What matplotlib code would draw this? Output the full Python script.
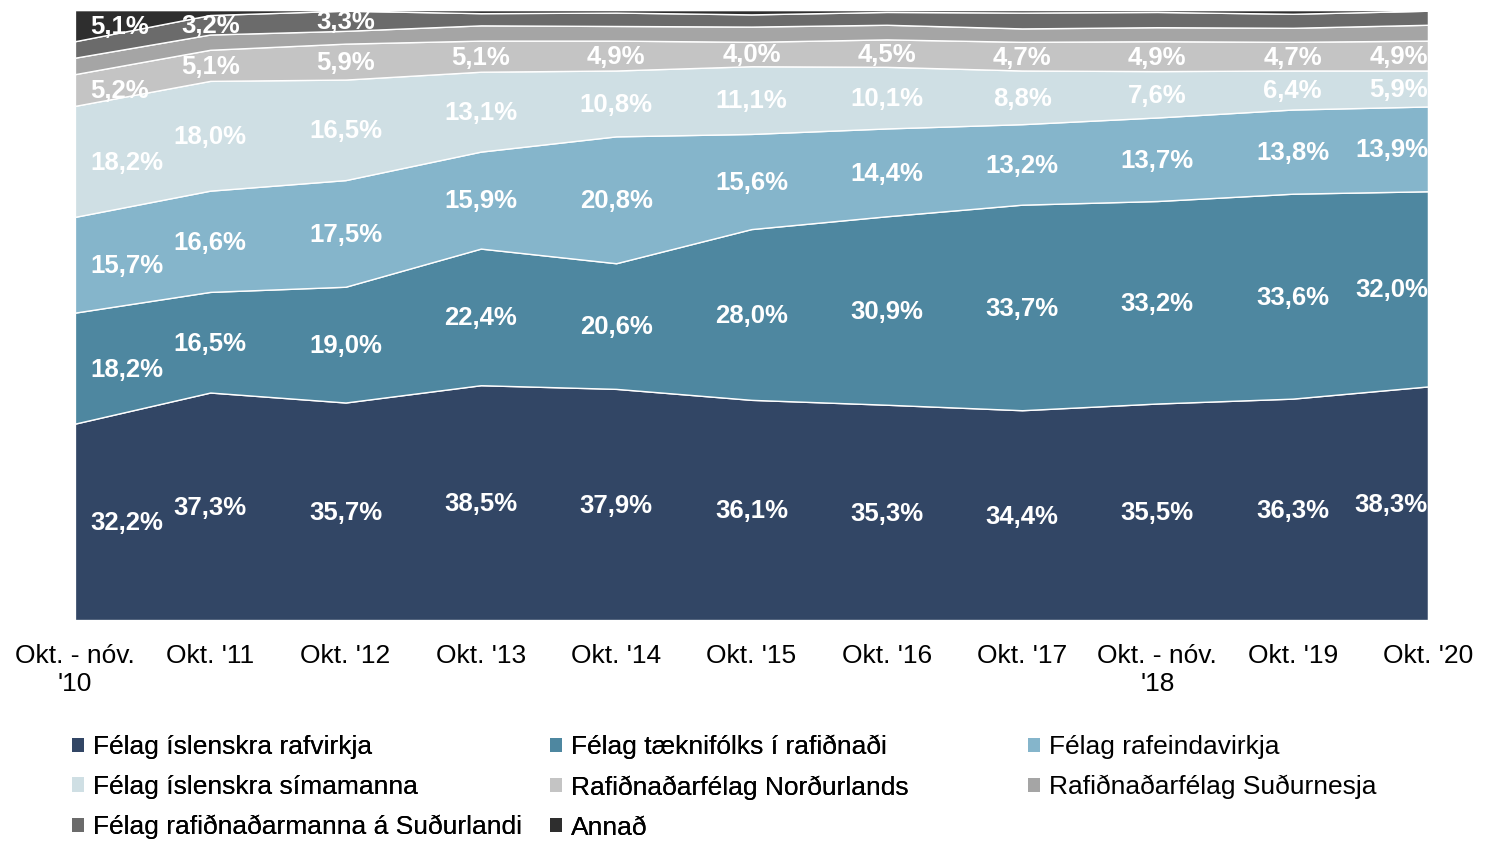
import numpy as np
import matplotlib.pyplot as plt
from matplotlib.patches import Patch

plt.rcParams['font.family'] = ['Liberation Sans', 'DejaVu Sans']

# Categories (x axis)
periods = ["Okt. - nóv.\n'10", "Okt. '11", "Okt. '12", "Okt. '13", "Okt. '14", "Okt. '15",
           "Okt. '16", "Okt. '17", "Okt. - nóv.\n'18", "Okt. '19", "Okt. '20"]

# Shares (%) per union
rafvirkja = [32.2, 37.3, 35.7, 38.5, 37.9, 36.1, 35.3, 34.4, 35.5, 36.3, 38.3]
taeknifolk = [18.2, 16.5, 19.0, 22.4, 20.6, 28.0, 30.9, 33.7, 33.2, 33.6, 32.0]
rafeinda = [15.7, 16.6, 17.5, 15.9, 20.8, 15.6, 14.4, 13.2, 13.7, 13.8, 13.9]
simamanna = [18.2, 18.0, 16.5, 13.1, 10.8, 11.1, 10.1, 8.8, 7.6, 6.4, 5.9]
nordurland = [5.2, 5.1, 5.9, 5.1, 4.9, 4.0, 4.5, 4.7, 4.9, 4.7, 4.9]
sudurnes = [2.7, 2.5, 2.1, 2.5, 2.4, 2.5, 2.4, 2.2, 2.3, 2.3, 2.6]
sudurland = [2.7, 3.2, 3.3, 2.0, 2.2, 2.0, 2.1, 2.6, 2.5, 2.3, 2.3]
annad = [5.1, 0.8, 0.1, 0.5, 0.4, 0.7, 0.3, 0.4, 0.3, 0.6, 0.1]

names = ["Félag íslenskra rafvirkja", "Félag tæknifólks í rafiðnaði", "Félag rafeindavirkja",
         "Félag íslenskra símamanna", "Rafiðnaðarfélag Norðurlands", "Rafiðnaðarfélag Suðurnesja",
         "Félag rafiðnaðarmanna á Suðurlandi", "Annað"]
colors = ["#324665", "#4e87a0", "#85b5cb", "#cfdfe4", "#c4c4c4", "#a5a5a5", "#6b6b6b", "#2e2e2e"]

series = np.array([rafvirkja, taeknifolk, rafeinda, simamanna, nordurland, sudurnes, sudurland, annad])
shares = series / series.sum(axis=0) * 100

# which points get a data label, per series
show = [
    [True] * 11,
    [True] * 11,
    [True] * 11,
    [True] * 11,
    [True] * 11,
    [False] * 11,
    [False, True, True] + [False] * 8,
    [True] + [False] * 10,
]

x = np.arange(len(periods))

fig = plt.figure(figsize=(14.99, 8.43), dpi=100)
ax = fig.add_axes([0.05, 0.2645, 0.9026, 0.7235])
ax.stackplot(x, shares, colors=colors, edgecolor='white', linewidth=1)
ax.set_xlim(0, len(periods) - 1)
ax.set_ylim(0, 100)
ax.set_yticks([])
ax.set_xticks(x)
ax.set_xticklabels(periods, fontsize=19, linespacing=1.25)
ax.tick_params(axis='x', length=0, pad=17)
for s in ax.spines.values():
    s.set_visible(False)

# data labels centred in each band
bottoms = np.vstack([np.zeros(len(x)), np.cumsum(shares, axis=0)[:-1]])
for i in range(len(series)):
    for j in range(len(x)):
        if not show[i][j]:
            continue
        yc = bottoms[i][j] + shares[i][j] / 2
        txt = f"{series[i][j]:.1f}%".replace('.', ',')
        if j == 0:
            ha, dx = 'left', 11
        elif j == len(x) - 1:
            ha, dx = 'right', 0
        else:
            ha, dx = 'center', 0
        ax.annotate(txt, (x[j], yc), xytext=(dx, -1), textcoords='offset points',
                    ha=ha, va='center', color='white', fontsize=18.5, fontweight='bold',
                    annotation_clip=False)

# legend: three columns placed by hand
handles = [Patch(facecolor=c, edgecolor='none') for c in colors]
col_x = [0.048, 0.367, 0.686]
for k, cx in enumerate(col_x):
    idx = list(range(k, len(names), 3))
    leg = fig.legend([handles[i] for i in idx], [names[i] for i in idx],
                     loc='upper left', bbox_to_anchor=(cx, 0.128), frameon=False,
                     fontsize=19, handlelength=0.45, handleheight=0.45, handletextpad=0.35,
                     labelspacing=0.6, borderaxespad=0, borderpad=0)
    if k < 2:
        fig.add_artist(leg)

fig.savefig('out.png', dpi=100)
